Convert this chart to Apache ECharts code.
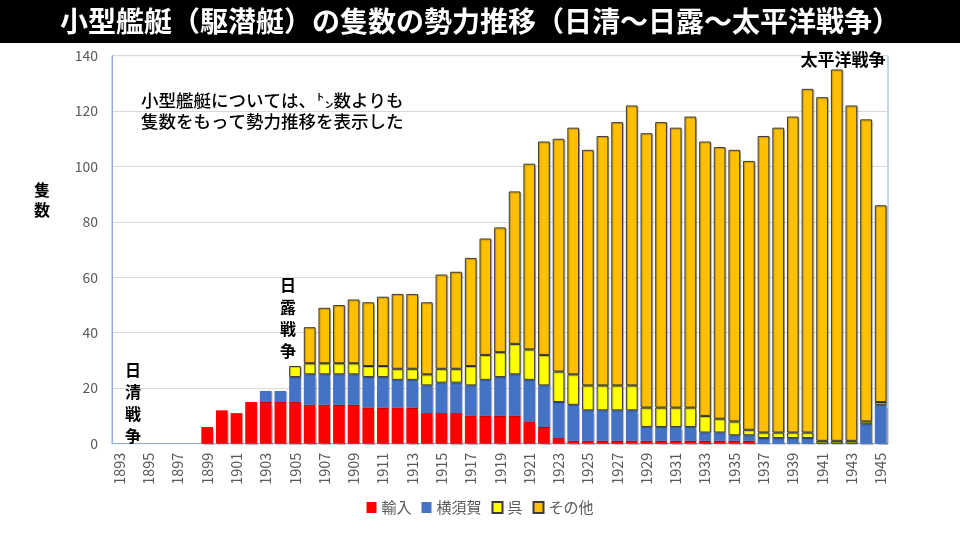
<!DOCTYPE html>
<html><head><meta charset="utf-8">
<script src="https://cdn.jsdelivr.net/npm/echarts@6/dist/echarts.min.js"></script>
<style>html,body{margin:0;padding:0;background:#fff}#c{width:960px;height:540px}</style>
</head><body><div id="c"></div>
<script>
const years = ['1893','1894','1895','1896','1897','1898','1899','1900','1901','1902','1903','1904','1905','1906','1907','1908','1909','1910','1911','1912','1913','1914','1915','1916','1917','1918','1919','1920','1921','1922','1923','1924','1925','1926','1927','1928','1929','1930','1931','1932','1933','1934','1935','1936','1937','1938','1939','1940','1941','1942','1943','1944','1945'];
const importVals = [0,0,0,0,0,0,6,12,11,15,15,15,15,14,14,14,14,13,13,13,13,11,11,11,10,10,10,10,8,6,2,1,1,1,1,1,1,1,1,1,1,1,1,1,0,0,0,0,0,0,0,0,0];
const yokosukaVals = [0,0,0,0,0,0,0,0,0,0,4,4,9,11,11,11,11,11,11,10,10,10,11,11,11,13,14,15,15,15,13,13,11,11,11,11,5,5,5,5,3,3,2,2,2,2,2,2,0,0,0,7,14];
const kureVals = [0,0,0,0,0,0,0,0,0,0,0,0,4,4,4,4,4,4,4,4,4,4,5,5,7,9,9,11,11,11,11,11,9,9,9,9,7,7,7,7,6,5,5,2,2,2,2,2,1,1,1,1,1];
const otherVals = [0,0,0,0,0,0,0,0,0,0,0,0,0,13,20,21,23,23,25,27,27,26,34,35,39,42,45,55,67,77,84,89,85,90,95,101,99,103,101,105,99,98,98,97,107,110,114,124,124,134,121,109,71];
const seriesNames = ['輸入','横須賀','呉','その他'];
const seriesColors = ['#FF0000','#4472C4','#FFFF00','#FFC000'];
const yTicks = [0,20,40,60,80,100,120,140];

const FONT = '"Noto Sans CJK JP","Noto Sans",sans-serif';
const nz = a => a.map(v => v === 0 ? null : v);
const allVals = [importVals, yokosukaVals, kureVals, otherVals];

const chart = echarts.init(document.getElementById('c'), null, {renderer:'canvas'});
const series = seriesNames.map((n,i) => ({
  name: n, type: 'bar', stack: 'total', data: nz(allVals[i]),
  barCategoryGap: '20%',
  itemStyle: {
    color: seriesColors[i],
    borderColor: i >= 2 ? '#3a3a3a' : seriesColors[i],
    borderWidth: i >= 2 ? 1 : 0,
    shadowColor: 'rgba(0,0,0,0.25)', shadowOffsetX: 1, shadowOffsetY: 1, shadowBlur: 1
  }
}));

chart.setOption({
  animation: false,
  backgroundColor: '#fff',
  textStyle: {fontFamily: FONT},
  grid: {left: 112, right: 72, top: 55.6, bottom: 96.4, show: true, borderColor: '#8FAADC', borderWidth: 1, containLabel: false},
  legend: {
    data: seriesNames, bottom: 20, left: 'center', itemWidth: 10, itemHeight: 11, itemGap: 10,
    textStyle: {color: '#595959', fontSize: 15, fontFamily: FONT}, icon: 'rect'
  },
  xAxis: {
    type: 'category', data: years,
    axisLine: {lineStyle: {color: '#8FAADC'}},
    axisTick: {show: false},
    axisLabel: {interval: 1, rotate: 90, color: '#595959', fontSize: 14.5, fontFamily: FONT, margin: 9}
  },
  yAxis: {
    type: 'value', min: yTicks[0], max: yTicks[yTicks.length-1], interval: 20,
    axisLine: {show: true, lineStyle: {color: '#8FAADC'}},
    axisTick: {show: false},
    splitLine: {lineStyle: {color: '#D9D9D9'}},
    axisLabel: {color: '#595959', fontSize: 14, fontFamily: FONT, margin: 14}
  },
  series: series,
  graphic: [
    {type: 'rect', left: 0, top: 0, shape: {width: 960, height: 43}, style: {fill: '#000'}, z: 10},
    {type: 'text', x: 480, y: 21, z: 11, style: {text: '小型艦艇（駆潜艇）の隻数の勢力推移（日清～日露～太平洋戦争）', fill: '#fff', font: 'bold 28px ' + FONT, align: 'center', verticalAlign: 'middle'}},
    {type: 'text', x: 141, y: 111, z: 11, style: {text: '小型艦艇については、㌧数よりも\n隻数をもって勢力推移を表示した', fill: '#000', font: '500 17.5px ' + FONT, lineHeight: 21, align: 'left', verticalAlign: 'middle'}},
    {type: 'text', x: 42, y: 200, z: 11, style: {text: '隻\n数', fill: '#000', font: 'bold 16px ' + FONT, lineHeight: 20, align: 'center', verticalAlign: 'middle'}},
    {type: 'text', x: 133, y: 403, z: 11, style: {text: '日\n清\n戦\n争', fill: '#000', font: 'bold 16px ' + FONT, lineHeight: 22, align: 'center', verticalAlign: 'middle'}},
    {type: 'text', x: 288, y: 318, z: 11, style: {text: '日\n露\n戦\n争', fill: '#000', font: 'bold 16px ' + FONT, lineHeight: 22, align: 'center', verticalAlign: 'middle'}},
    {type: 'text', x: 843, y: 60, z: 11, style: {text: '太平洋戦争', fill: '#000', font: 'bold 17px ' + FONT, align: 'center', verticalAlign: 'middle'}}
  ]
});
</script></body></html>
